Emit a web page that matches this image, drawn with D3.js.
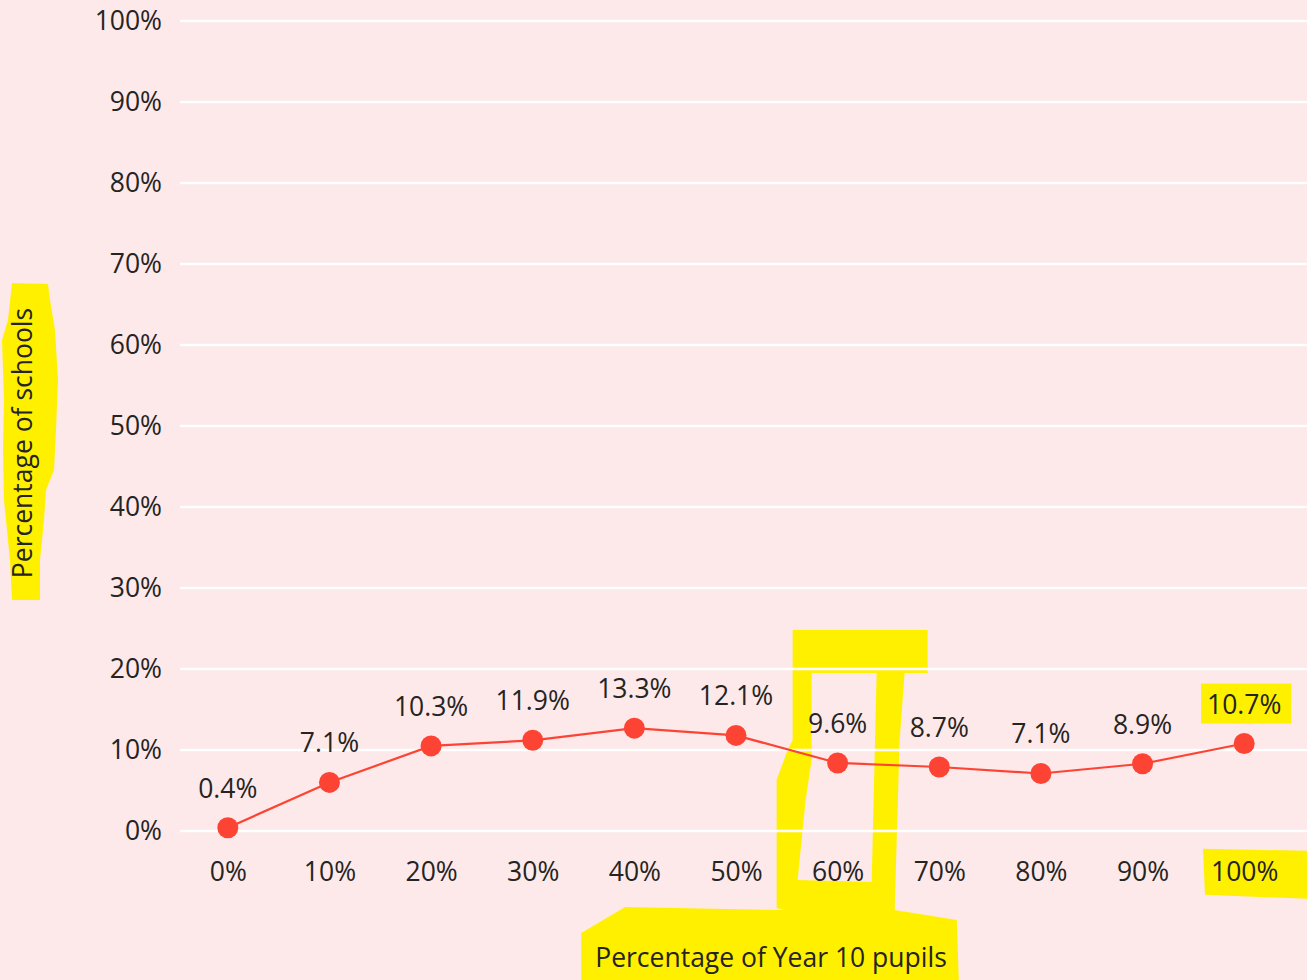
<!DOCTYPE html>
<html>
<head>
<meta charset="utf-8">
<script src="https://cdn.jsdelivr.net/npm/d3@7"></script>
<style>
  html, body { margin: 0; padding: 0; background: #fde9e9; }
  svg { display: block; }
  text { font-family: "Open Sans", "Noto Sans", sans-serif; fill: #252423; }
</style>
</head>
<body>
<svg id="chart" width="1307" height="980"></svg>
<script>
// x categories (share of Year 10 pupils)
const categories = ['0%', '10%', '20%', '30%', '40%', '50%', '60%', '70%', '80%', '90%', '100%'];
// plotted point heights
const pointValues = [0.004, 0.060, 0.105, 0.112, 0.127, 0.118, 0.084, 0.079, 0.071, 0.083, 0.108];
// data label texts as printed on the chart
const labelTexts = ['0.4%', '7.1%', '10.3%', '11.9%', '13.3%', '12.1%', '9.6%', '8.7%', '7.1%', '8.9%', '10.7%'];
const yTicks = [0, 0.1, 0.2, 0.3, 0.4, 0.5, 0.6, 0.7, 0.8, 0.9, 1.0];

const WIDTH = 1307;
const FONT_SIZE = 26.5;
const LINE_COLOR = '#fd4434';
const HIGHLIGHT = '#fff000';
const GRID_LEFT = 180;
const X_AXIS_Y = 862;

const svg = d3.select('#chart');

const x = d3.scalePoint().domain(categories).range([177, 1295]).padding(0.5);
const y = d3.scaleLinear().domain([0, 1]).range([831, 21]);

const hlLayer = svg.append('g');
const gridLayer = svg.append('g');
const plotLayer = svg.append('g');
const textLayer = svg.append('g');

// gridlines
gridLayer.selectAll('line').data(yTicks).enter()
  .append('line')
  .attr('x1', GRID_LEFT).attr('x2', WIDTH)
  .attr('y1', (d) => y(d)).attr('y2', (d) => y(d))
  .attr('stroke', '#ffffff').attr('stroke-width', 2.5);

// y axis labels
const yAxis = d3.axisLeft(y).tickValues(yTicks).tickFormat(d3.format('.0%')).tickSize(0).tickPadding(0);
const yAxisG = textLayer.append('g').attr('transform', 'translate(162,0)').call(yAxis);
yAxisG.select('.domain').remove();
yAxisG.selectAll('text').attr('font-size', FONT_SIZE).attr('font-family', null).attr('fill', '#252423');

// x axis labels
const xAxis = d3.axisBottom(x).tickSize(0).tickPadding(0);
const xAxisG = textLayer.append('g').attr('transform', `translate(0,${X_AXIS_Y})`).call(xAxis);
xAxisG.select('.domain').remove();
xAxisG.selectAll('text').attr('font-size', FONT_SIZE).attr('font-family', null).attr('fill', '#252423');

// line + markers
const line = d3.line().x((d, i) => x(categories[i])).y((d) => y(d));
plotLayer.append('path').datum(pointValues)
  .attr('d', line).attr('fill', 'none')
  .attr('stroke', LINE_COLOR).attr('stroke-width', 2.2);

plotLayer.selectAll('circle').data(pointValues).enter()
  .append('circle')
  .attr('cx', (d, i) => x(categories[i]))
  .attr('cy', (d) => y(d))
  .attr('r', 10.5)
  .attr('fill', LINE_COLOR);

// data labels
const dataLabels = textLayer.selectAll('.dl').data(pointValues).enter()
  .append('text').attr('class', 'dl')
  .attr('x', (d, i) => x(categories[i]))
  .attr('y', (d) => y(d) - 30)
  .attr('text-anchor', 'middle')
  .attr('font-size', FONT_SIZE)
  .text((d, i) => labelTexts[i]);

// axis titles
const yTitle = textLayer.append('text')
  .attr('transform', 'translate(32,443) rotate(-90)')
  .attr('text-anchor', 'middle')
  .attr('font-size', FONT_SIZE)
  .text('Percentage of schools');

const xTitle = textLayer.append('text')
  .attr('x', 771).attr('y', 967)
  .attr('text-anchor', 'middle')
  .attr('font-size', FONT_SIZE)
  .text('Percentage of Year 10 pupils');

// yellow highlighter marks
function box(b, pl, pt, pr, pb) {
  return [b.x - pl, b.y - pt, b.width + pl + pr, b.height + pt + pb];
}
function addRect(r) {
  hlLayer.append('rect')
    .attr('x', r[0]).attr('y', r[1]).attr('width', r[2]).attr('height', r[3])
    .attr('fill', HIGHLIGHT);
}

// scribble behind the y title
hlLayer.append('path')
  .attr('d', 'M12,283 L48,284 L50,300 L55,330 L58,380 L56,430 L54,470 L46,490 L44,520 L40,560 L40,600 L12,600 L10,560 L4,500 L3,450 L4,400 L2,340 L8,320 Z')
  .attr('fill', HIGHLIGHT);

// bracket around the 60% column
const cx60 = x('60%');
const bracket = d3.path();
bracket.moveTo(cx60 - 45, 630);
bracket.lineTo(cx60 + 90, 630);
bracket.lineTo(cx60 + 90, 673);
bracket.lineTo(cx60 + 67, 673);
bracket.lineTo(cx60 + 62, 740);
bracket.lineTo(cx60 + 57, 912);
bracket.lineTo(cx60 - 45, 912);
bracket.lineTo(cx60 - 61, 908);
bracket.lineTo(cx60 - 61, 780);
bracket.lineTo(cx60 - 50, 750);
bracket.lineTo(cx60 - 45, 740);
bracket.closePath();
// inner hole
bracket.moveTo(cx60 - 26, 673);
bracket.lineTo(cx60 + 39, 673);
bracket.lineTo(cx60 + 34, 882);
bracket.lineTo(cx60 - 40, 880);
bracket.lineTo(cx60 - 32, 800);
bracket.lineTo(cx60 - 26, 760);
bracket.closePath();
hlLayer.append('path').attr('d', bracket.toString()).attr('fill', HIGHLIGHT).attr('fill-rule', 'evenodd');

// blob under the x title
const xtb = xTitle.node().getBBox();
hlLayer.append('path')
  .attr('d', `M${xtb.x - 14},${xtb.y - 6} L${xtb.x + 30},907 L${cx60 - 61},910 L${cx60 + 57},910 L${xtb.x + xtb.width + 10},920 L${xtb.x + xtb.width + 12},980 L${xtb.x - 14},980 Z`)
  .attr('fill', HIGHLIGHT);

// 10.7% label and 100% tick
const lastLabel = dataLabels.filter((d, i) => i === labelTexts.length - 1).node().getBBox();
addRect(box(lastLabel, 6, 2, 10, 2));
const lastTick = xAxisG.selectAll('.tick text').filter((d) => d === '100%').node();
const tb = lastTick.getBBox();
const tm = lastTick.parentNode.transform.baseVal.consolidate().matrix;
const tickBox = { x: tb.x + tm.e, y: tb.y + X_AXIS_Y + tm.f, width: tb.width, height: tb.height };
hlLayer.append('path')
  .attr('d', `M${tickBox.x - 8},${tickBox.y - 4} L${WIDTH},${tickBox.y - 2} L${WIDTH},${tickBox.y + tickBox.height + 10} L${tickBox.x - 6},${tickBox.y + tickBox.height + 6} Z`)
  .attr('fill', HIGHLIGHT);
</script>
</body>
</html>
